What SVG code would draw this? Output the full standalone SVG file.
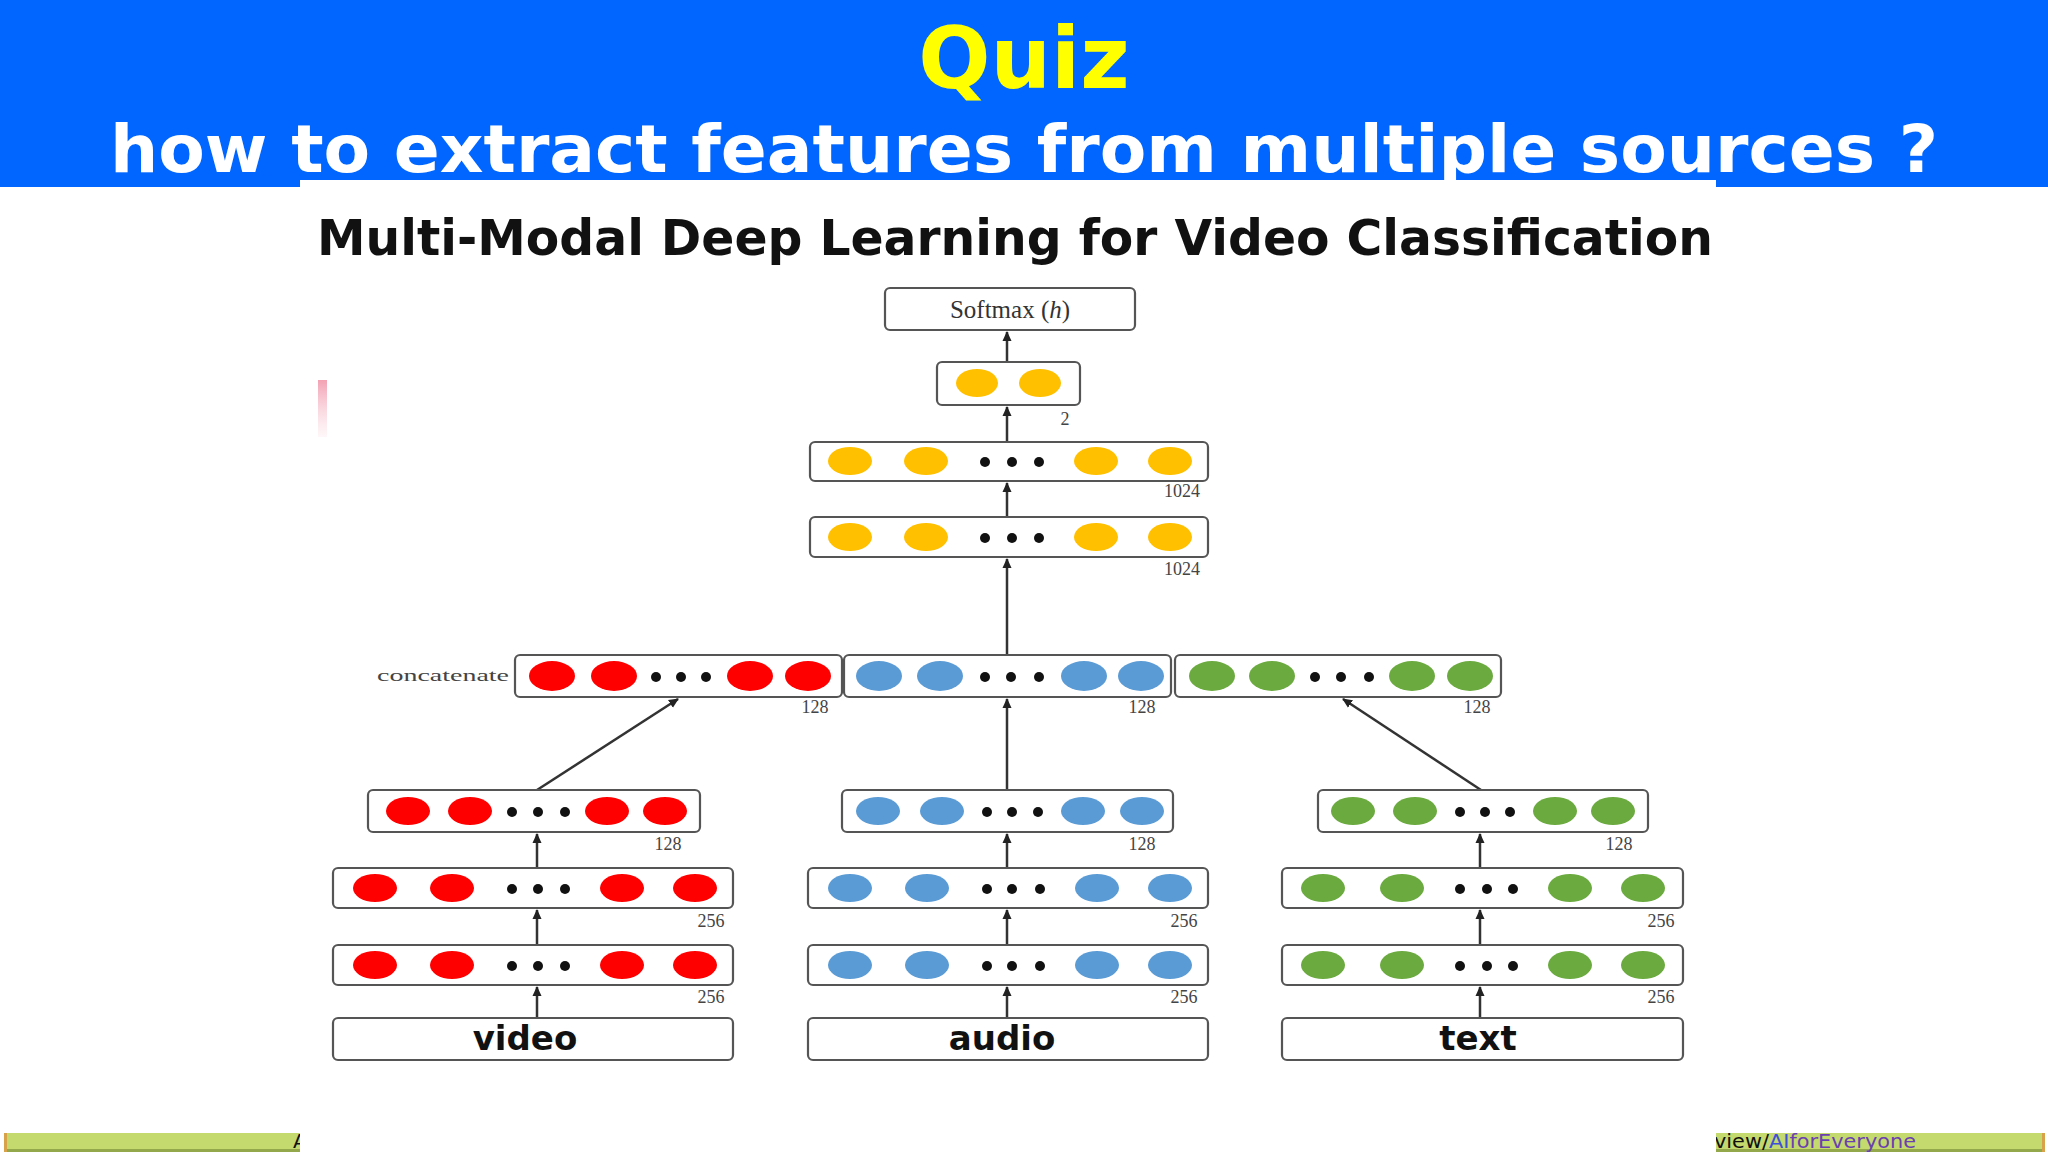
<svg xmlns="http://www.w3.org/2000/svg" width="2048" height="1152" viewBox="0 0 2048 1152">
<defs>
<marker id="ah" markerUnits="userSpaceOnUse" markerWidth="10" markerHeight="10" viewBox="0 0 10 10" refX="9" refY="5" orient="auto">
<path d="M0,0.5 L10,5 L0,9.5 z" fill="#222"/>
</marker>
<linearGradient id="pink" x1="0" y1="0" x2="0" y2="1">
<stop offset="0" stop-color="#f08aa0" stop-opacity="0.8"/>
<stop offset="1" stop-color="#f8c8d4" stop-opacity="0.15"/>
</linearGradient>
<style>
.box{fill:#fff;stroke:#555;stroke-width:2.2}
.y{fill:#FFC000}
.r{fill:#FF0000}
.b{fill:#5B9BD5}
.g{fill:#6BAA3F}
.dot{fill:#111}
.num{font-family:"Liberation Serif","DejaVu Serif",serif;font-size:18px;fill:#444;text-anchor:middle}
.inp{font-family:"DejaVu Sans","Noto Sans",sans-serif;font-size:34px;font-weight:bold;fill:#111;text-anchor:middle}
.conn{stroke:#333;stroke-width:2.5;fill:none;marker-end:url(#ah)}
</style>
</defs>
<rect x="0" y="0" width="2048" height="1152" fill="#fff"/>
<rect x="0" y="0" width="2048" height="187" fill="#0066FF"/>
<text x="1024" y="88" font-family="DejaVu Sans,Verdana,sans-serif" font-weight="bold" font-size="85" fill="#FFFF00" text-anchor="middle">Quiz</text>
<text x="110" y="172" font-family="DejaVu Sans,Verdana,sans-serif" font-weight="bold" font-size="66" fill="#fff" textLength="1828" lengthAdjust="spacingAndGlyphs">how to extract features from multiple sources ?</text>
<g id="footer">
<rect x="6" y="1133" width="294" height="19" fill="#C4D96E"/>
<rect x="6" y="1149" width="294" height="3" fill="#93A84A"/>
<rect x="4" y="1133" width="3" height="19" fill="#D8A24A"/>
<rect x="1714" y="1133" width="330" height="19" fill="#C4D96E"/>
<rect x="1714" y="1149" width="330" height="3" fill="#93A84A"/>
<rect x="2042" y="1133" width="3" height="19" fill="#D8A24A"/>
<text x="293" y="1148" font-family="DejaVu Sans,sans-serif" font-size="20" fill="#111">A</text>
<text x="1714" y="1148" font-family="DejaVu Sans,sans-serif" font-size="20" textLength="202" lengthAdjust="spacingAndGlyphs"><tspan fill="#111">view/</tspan><tspan fill="#3D4FD8">AI</tspan><tspan fill="#6A3FB0">forEveryone</tspan></text>
</g>
<rect id="panel" x="300" y="180" width="1416" height="972" fill="#fff"/>
<rect x="318" y="380" width="9" height="57" fill="url(#pink)"/>
<text x="317" y="255" font-family="DejaVu Sans,Verdana,sans-serif" font-weight="bold" font-size="50" fill="#111" textLength="1396" lengthAdjust="spacingAndGlyphs">Multi-Modal Deep Learning for Video Classification</text>

<g id="connectors">
<line class="conn" x1="1007" y1="362" x2="1007" y2="332"/>
<line class="conn" x1="1007" y1="442" x2="1007" y2="407"/>
<line class="conn" x1="1007" y1="517" x2="1007" y2="483"/>
<line class="conn" x1="1007" y1="655" x2="1007" y2="559"/>
<line class="conn" x1="1007" y1="790" x2="1007" y2="699"/>
<line class="conn" x1="537" y1="790" x2="678" y2="699"/>
<line class="conn" x1="1481" y1="790" x2="1343" y2="699"/>
<line class="conn" x1="537" y1="868" x2="537" y2="834"/>
<line class="conn" x1="537" y1="945" x2="537" y2="910"/>
<line class="conn" x1="537" y1="1018" x2="537" y2="987"/>
<line class="conn" x1="1007" y1="868" x2="1007" y2="834"/>
<line class="conn" x1="1007" y1="945" x2="1007" y2="910"/>
<line class="conn" x1="1007" y1="1018" x2="1007" y2="987"/>
<line class="conn" x1="1480" y1="868" x2="1480" y2="834"/>
<line class="conn" x1="1480" y1="945" x2="1480" y2="910"/>
<line class="conn" x1="1480" y1="1018" x2="1480" y2="987"/>
</g>

<g id="softmax">
<rect class="box" x="885" y="288" width="250" height="42" rx="5"/>
<text x="1010" y="318" font-family="Liberation Serif,DejaVu Serif,serif" font-size="25" fill="#333" text-anchor="middle">Softmax (<tspan font-style="italic">h</tspan>)</text>
</g>
<g id="out2">
<rect class="box" x="937" y="362" width="143" height="43" rx="5"/>
<ellipse class="y" cx="977" cy="383" rx="21" ry="14"/>
<ellipse class="y" cx="1040" cy="383" rx="21" ry="14"/>
<text class="num" x="1065" y="425">2</text>
</g>
<g id="fc1024a">
<rect class="box" x="810" y="442" width="398" height="39" rx="5"/>
<ellipse class="y" cx="850" cy="461" rx="22" ry="14"/>
<ellipse class="y" cx="926" cy="461" rx="22" ry="14"/>
<ellipse class="y" cx="1096" cy="461" rx="22" ry="14"/>
<ellipse class="y" cx="1170" cy="461" rx="22" ry="14"/>
<circle class="dot" cx="985" cy="462" r="5"/><circle class="dot" cx="1012" cy="462" r="5"/><circle class="dot" cx="1039" cy="462" r="5"/>
<text class="num" x="1182" y="497">1024</text>
</g>
<g id="fc1024b">
<rect class="box" x="810" y="517" width="398" height="40" rx="5"/>
<ellipse class="y" cx="850" cy="537" rx="22" ry="14"/>
<ellipse class="y" cx="926" cy="537" rx="22" ry="14"/>
<ellipse class="y" cx="1096" cy="537" rx="22" ry="14"/>
<ellipse class="y" cx="1170" cy="537" rx="22" ry="14"/>
<circle class="dot" cx="985" cy="538" r="5"/><circle class="dot" cx="1012" cy="538" r="5"/><circle class="dot" cx="1039" cy="538" r="5"/>
<text class="num" x="1182" y="575">1024</text>
</g>

<text id="concat-label" x="377" y="681" font-family="Liberation Serif,DejaVu Serif,serif" font-size="17" fill="#444" textLength="132" lengthAdjust="spacingAndGlyphs">concatenate</text>
<g id="concat-video">
<rect class="box" x="515" y="655" width="327" height="42" rx="5"/>
<ellipse class="r" cx="552" cy="676" rx="23" ry="15"/>
<ellipse class="r" cx="614" cy="676" rx="23" ry="15"/>
<ellipse class="r" cx="750" cy="676" rx="23" ry="15"/>
<ellipse class="r" cx="808" cy="676" rx="23" ry="15"/>
<circle class="dot" cx="656" cy="677" r="5"/><circle class="dot" cx="681" cy="677" r="5"/><circle class="dot" cx="706" cy="677" r="5"/>
<text class="num" x="815" y="713">128</text>
</g>
<g id="concat-audio">
<rect class="box" x="844" y="655" width="327" height="42" rx="5"/>
<ellipse class="b" cx="879" cy="676" rx="23" ry="15"/>
<ellipse class="b" cx="940" cy="676" rx="23" ry="15"/>
<ellipse class="b" cx="1084" cy="676" rx="23" ry="15"/>
<ellipse class="b" cx="1141" cy="676" rx="23" ry="15"/>
<circle class="dot" cx="985" cy="677" r="5"/><circle class="dot" cx="1011" cy="677" r="5"/><circle class="dot" cx="1039" cy="677" r="5"/>
<text class="num" x="1142" y="713">128</text>
</g>
<g id="concat-text">
<rect class="box" x="1175" y="655" width="326" height="42" rx="5"/>
<ellipse class="g" cx="1212" cy="676" rx="23" ry="15"/>
<ellipse class="g" cx="1272" cy="676" rx="23" ry="15"/>
<ellipse class="g" cx="1412" cy="676" rx="23" ry="15"/>
<ellipse class="g" cx="1470" cy="676" rx="23" ry="15"/>
<circle class="dot" cx="1315" cy="677" r="5"/><circle class="dot" cx="1341" cy="677" r="5"/><circle class="dot" cx="1369" cy="677" r="5"/>
<text class="num" x="1477" y="713">128</text>
</g>

<g id="video-128">
<rect class="box" x="368" y="790" width="332" height="42" rx="5"/>
<ellipse class="r" cx="408" cy="811" rx="22" ry="14"/>
<ellipse class="r" cx="470" cy="811" rx="22" ry="14"/>
<ellipse class="r" cx="607" cy="811" rx="22" ry="14"/>
<ellipse class="r" cx="665" cy="811" rx="22" ry="14"/>
<circle class="dot" cx="512" cy="812" r="5"/><circle class="dot" cx="538" cy="812" r="5"/><circle class="dot" cx="565" cy="812" r="5"/>
<text class="num" x="668" y="850">128</text>
</g>
<g id="video-256a">
<rect class="box" x="333" y="868" width="400" height="40" rx="5"/>
<ellipse class="r" cx="375" cy="888" rx="22" ry="14"/>
<ellipse class="r" cx="452" cy="888" rx="22" ry="14"/>
<ellipse class="r" cx="622" cy="888" rx="22" ry="14"/>
<ellipse class="r" cx="695" cy="888" rx="22" ry="14"/>
<circle class="dot" cx="512" cy="889" r="5"/><circle class="dot" cx="538" cy="889" r="5"/><circle class="dot" cx="565" cy="889" r="5"/>
<text class="num" x="711" y="927">256</text>
</g>
<g id="video-256b">
<rect class="box" x="333" y="945" width="400" height="40" rx="5"/>
<ellipse class="r" cx="375" cy="965" rx="22" ry="14"/>
<ellipse class="r" cx="452" cy="965" rx="22" ry="14"/>
<ellipse class="r" cx="622" cy="965" rx="22" ry="14"/>
<ellipse class="r" cx="695" cy="965" rx="22" ry="14"/>
<circle class="dot" cx="512" cy="966" r="5"/><circle class="dot" cx="538" cy="966" r="5"/><circle class="dot" cx="565" cy="966" r="5"/>
<text class="num" x="711" y="1003">256</text>
</g>
<g id="video-input">
<rect class="box" x="333" y="1018" width="400" height="42" rx="5"/>
<text class="inp" x="525" y="1050">video</text>
</g>

<g id="audio-128">
<rect class="box" x="842" y="790" width="331" height="42" rx="5"/>
<ellipse class="b" cx="878" cy="811" rx="22" ry="14"/>
<ellipse class="b" cx="942" cy="811" rx="22" ry="14"/>
<ellipse class="b" cx="1083" cy="811" rx="22" ry="14"/>
<ellipse class="b" cx="1142" cy="811" rx="22" ry="14"/>
<circle class="dot" cx="987" cy="812" r="5"/><circle class="dot" cx="1012" cy="812" r="5"/><circle class="dot" cx="1038" cy="812" r="5"/>
<text class="num" x="1142" y="850">128</text>
</g>
<g id="audio-256a">
<rect class="box" x="808" y="868" width="400" height="40" rx="5"/>
<ellipse class="b" cx="850" cy="888" rx="22" ry="14"/>
<ellipse class="b" cx="927" cy="888" rx="22" ry="14"/>
<ellipse class="b" cx="1097" cy="888" rx="22" ry="14"/>
<ellipse class="b" cx="1170" cy="888" rx="22" ry="14"/>
<circle class="dot" cx="987" cy="889" r="5"/><circle class="dot" cx="1012" cy="889" r="5"/><circle class="dot" cx="1040" cy="889" r="5"/>
<text class="num" x="1184" y="927">256</text>
</g>
<g id="audio-256b">
<rect class="box" x="808" y="945" width="400" height="40" rx="5"/>
<ellipse class="b" cx="850" cy="965" rx="22" ry="14"/>
<ellipse class="b" cx="927" cy="965" rx="22" ry="14"/>
<ellipse class="b" cx="1097" cy="965" rx="22" ry="14"/>
<ellipse class="b" cx="1170" cy="965" rx="22" ry="14"/>
<circle class="dot" cx="987" cy="966" r="5"/><circle class="dot" cx="1012" cy="966" r="5"/><circle class="dot" cx="1040" cy="966" r="5"/>
<text class="num" x="1184" y="1003">256</text>
</g>
<g id="audio-input">
<rect class="box" x="808" y="1018" width="400" height="42" rx="5"/>
<text class="inp" x="1002" y="1050">audio</text>
</g>

<g id="text-128">
<rect class="box" x="1318" y="790" width="330" height="42" rx="5"/>
<ellipse class="g" cx="1353" cy="811" rx="22" ry="14"/>
<ellipse class="g" cx="1415" cy="811" rx="22" ry="14"/>
<ellipse class="g" cx="1555" cy="811" rx="22" ry="14"/>
<ellipse class="g" cx="1613" cy="811" rx="22" ry="14"/>
<circle class="dot" cx="1460" cy="812" r="5"/><circle class="dot" cx="1485" cy="812" r="5"/><circle class="dot" cx="1510" cy="812" r="5"/>
<text class="num" x="1619" y="850">128</text>
</g>
<g id="text-256a">
<rect class="box" x="1282" y="868" width="401" height="40" rx="5"/>
<ellipse class="g" cx="1323" cy="888" rx="22" ry="14"/>
<ellipse class="g" cx="1402" cy="888" rx="22" ry="14"/>
<ellipse class="g" cx="1570" cy="888" rx="22" ry="14"/>
<ellipse class="g" cx="1643" cy="888" rx="22" ry="14"/>
<circle class="dot" cx="1460" cy="889" r="5"/><circle class="dot" cx="1487" cy="889" r="5"/><circle class="dot" cx="1513" cy="889" r="5"/>
<text class="num" x="1661" y="927">256</text>
</g>
<g id="text-256b">
<rect class="box" x="1282" y="945" width="401" height="40" rx="5"/>
<ellipse class="g" cx="1323" cy="965" rx="22" ry="14"/>
<ellipse class="g" cx="1402" cy="965" rx="22" ry="14"/>
<ellipse class="g" cx="1570" cy="965" rx="22" ry="14"/>
<ellipse class="g" cx="1643" cy="965" rx="22" ry="14"/>
<circle class="dot" cx="1460" cy="966" r="5"/><circle class="dot" cx="1487" cy="966" r="5"/><circle class="dot" cx="1513" cy="966" r="5"/>
<text class="num" x="1661" y="1003">256</text>
</g>
<g id="text-input">
<rect class="box" x="1282" y="1018" width="401" height="42" rx="5"/>
<text class="inp" x="1478" y="1050">text</text>
</g>
</svg>
